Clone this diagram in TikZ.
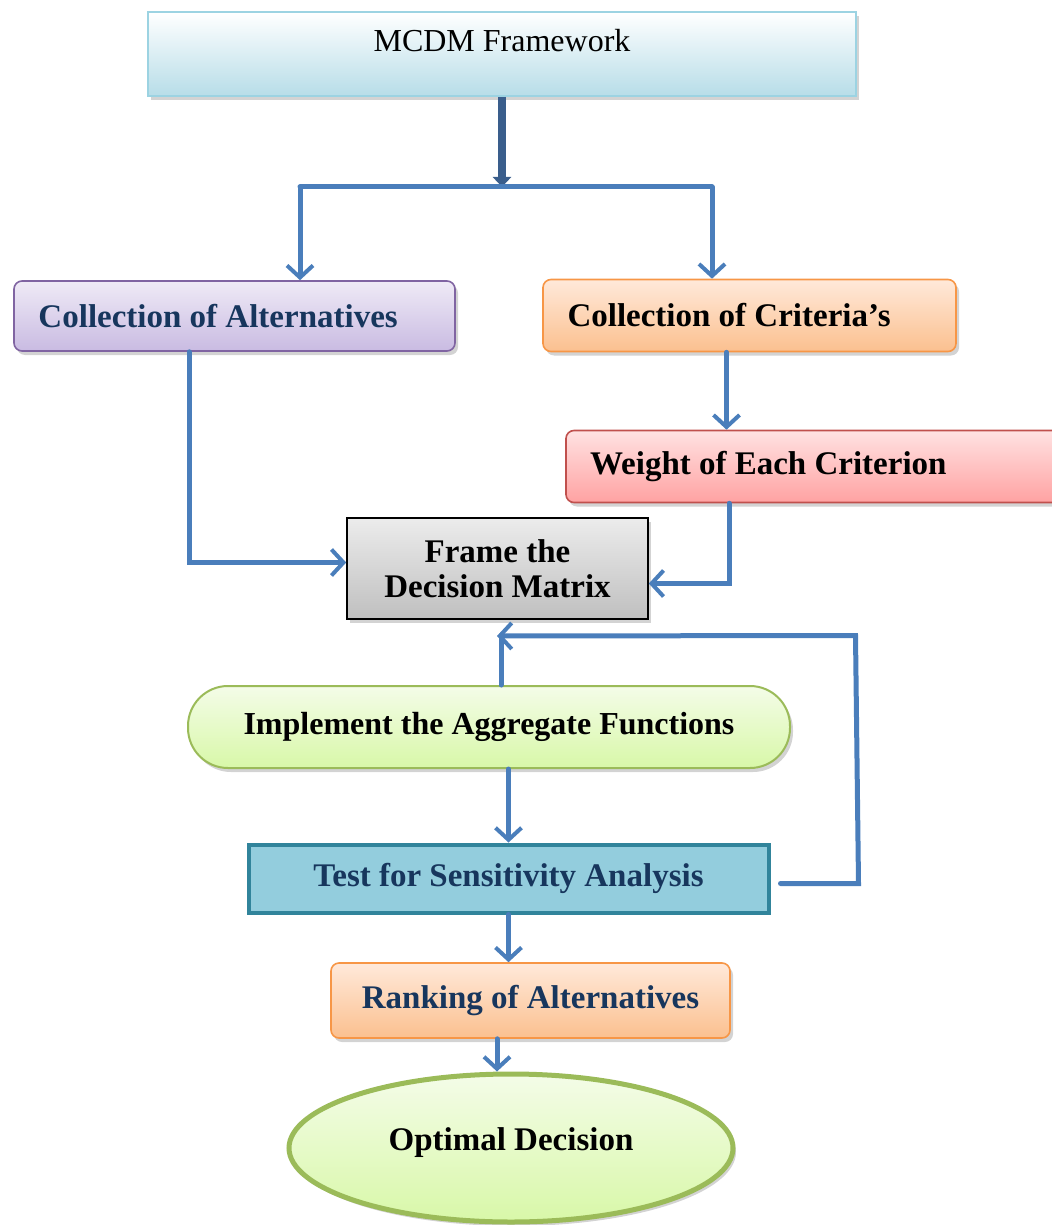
\documentclass[tikz,border=0pt]{standalone}
\usepackage{fontspec}
\setmainfont{Liberation Serif}
\usepackage{tikz}
\usetikzlibrary{arrows.meta,shapes.geometric,shadows}

\definecolor{flowblue}{HTML}{4A7EBB}
\definecolor{trunkblue}{HTML}{3A5E8C}
\definecolor{navy}{HTML}{17365D}
\definecolor{lav1}{HTML}{EFEAF6}
\definecolor{lav2}{HTML}{C9BBE2}
\definecolor{lavline}{HTML}{8064A2}
\definecolor{or1}{HTML}{FFE9DA}
\definecolor{or2}{HTML}{FBC08F}
\definecolor{orline}{HTML}{F79646}
\definecolor{pk1}{HTML}{FFE2E2}
\definecolor{pk2}{HTML}{FFA2A2}
\definecolor{pkline}{HTML}{C0504D}
\definecolor{gr1}{HTML}{F4FCE8}
\definecolor{gr2}{HTML}{D8F8A8}
\definecolor{grline}{HTML}{9BBB59}
\definecolor{sky1}{HTML}{93CDDD}
\definecolor{skyline}{HTML}{31849B}
\definecolor{ice2}{HTML}{B7DDE8}
\definecolor{iceline}{HTML}{9CD3E2}

\begin{document}
\begin{tikzpicture}[x=0.5pt,y=-0.5pt,line cap=round]
	\tikzstyle{shade1}=[drop shadow={shadow xshift=1.5pt,shadow yshift=-2pt,opacity=.35}];
	\tikzstyle{box1}=[shade1,rectangle,rounded corners=4pt,line width=0.8pt,font=\fontsize{16.5}{18}\bfseries,minimum height=36pt,inner xsep=12pt,align=flush left];
	\tikzstyle{tile1}=[box1,draw=orline,top color=or1,bottom color=or2];
	\tikzstyle{flow}=[line width=2.5pt,draw=flowblue,-{Straight Barb[length=6pt,width=13pt,line width=2pt]}];
	\tikzstyle{flat}=[line width=2.5pt,draw=flowblue];

	\useasboundingbox (0,0) rectangle (1051,1225);

	% boxes
	\node[shade1,rectangle,draw=iceline,line width=1pt,top color=white,bottom color=ice2,
		minimum width=354pt,text height=20pt,text depth=22pt,inner sep=0pt,font=\fontsize{16}{18}\selectfont] (mcdm) at (502,54) {MCDM Framework};
	\node[box1,draw=lavline,top color=lav1,bottom color=lav2,text=navy,text width=196pt,minimum width=220.5pt,minimum height=35pt] (alt) at (234.5,316) {Collection of Alternatives};
	\node[tile1,text width=182pt,minimum width=206.5pt] (crit) at (749.5,315.5) {Collection of Criteria’s};
	\node[box1,draw=pkline,top color=pk1,bottom color=pk2,text width=226pt,minimum width=250pt] (weight) at (816,466.5) {Weight of Each Criterion};
	\node[shade1,rectangle,draw=black,line width=0.8pt,top color=gray!15,bottom color=gray!50,minimum width=150.5pt,minimum height=50.5pt,
		font=\fontsize{16.5}{17.5}\bfseries,align=center] (frame) at (497.5,568.5) {Frame the\\Decision Matrix};
	\node[shade1,rectangle,rounded corners=20pt,draw=grline,line width=1pt,top color=gr1,bottom color=gr2,
		minimum width=301pt,minimum height=41pt,font=\fontsize{16}{18}\bfseries] (impl) at (489,727) {Implement the Aggregate Functions};
	\node[rectangle,draw=skyline,line width=2pt,fill=sky1,text=navy,minimum width=260pt,minimum height=34pt,
		font=\fontsize{16.5}{18}\bfseries] (test) at (508.5,878.5) {Test for Sensitivity Analysis};
	\node[tile1,text=navy,minimum width=199.5pt,minimum height=37.5pt,align=center] (rank) at (530.5,1000.5) {Ranking of Alternatives};
	\node[shade1,ellipse,draw=grline,line width=2.5pt,top color=gr1,bottom color=gr2,minimum width=222pt,minimum height=74pt,
		text depth=9pt,font=\fontsize{16.5}{18}\bfseries] (opt) at (511,1148) {Optimal Decision};

	% connectors
	\coordinate (split) at (502,187);
	\coordinate (lsplit) at (300,187);
	\coordinate (rsplit) at (712,187);
	\coordinate (back) at (497,636);
	\draw[line width=4pt,draw=trunkblue,line cap=butt,-{Triangle[length=5pt,width=9pt]}] (mcdm.south) -- (split);
	\draw[flat] (lsplit) -- (rsplit);
	\draw[flow] (lsplit) -- (lsplit |- alt.north);
	\draw[flow] (rsplit) -- (rsplit |- crit.north);
	\draw[flow] ([xshift=-22.75pt]alt.south) |- ([yshift=3pt]frame.west);
	\draw[flow] ([xshift=-11.5pt]crit.south) -- ([xshift=-11.5pt]crit.south |- weight.north);
	\draw[flow] ([xshift=-43.5pt]weight.south) |- ([yshift=-7.5pt]frame.east);
	\draw[flat] ([xshift=6pt]impl.north) -- ++(0,-50);
	\draw[flow] ([xshift=5pt,yshift=-2.5pt]test.east) -- ++(78,0) -- ++(-3,-248) -- (back);
	\draw[flow] (impl.south -| test.north) -- (test.north);
	\draw[flow] (test.south) -- (test.south |- rank.north);
	\draw[flow] ([xshift=-16.75pt]rank.south) -- ([xshift=-16.75pt]rank.south |- opt.north);
\end{tikzpicture}
\end{document}
